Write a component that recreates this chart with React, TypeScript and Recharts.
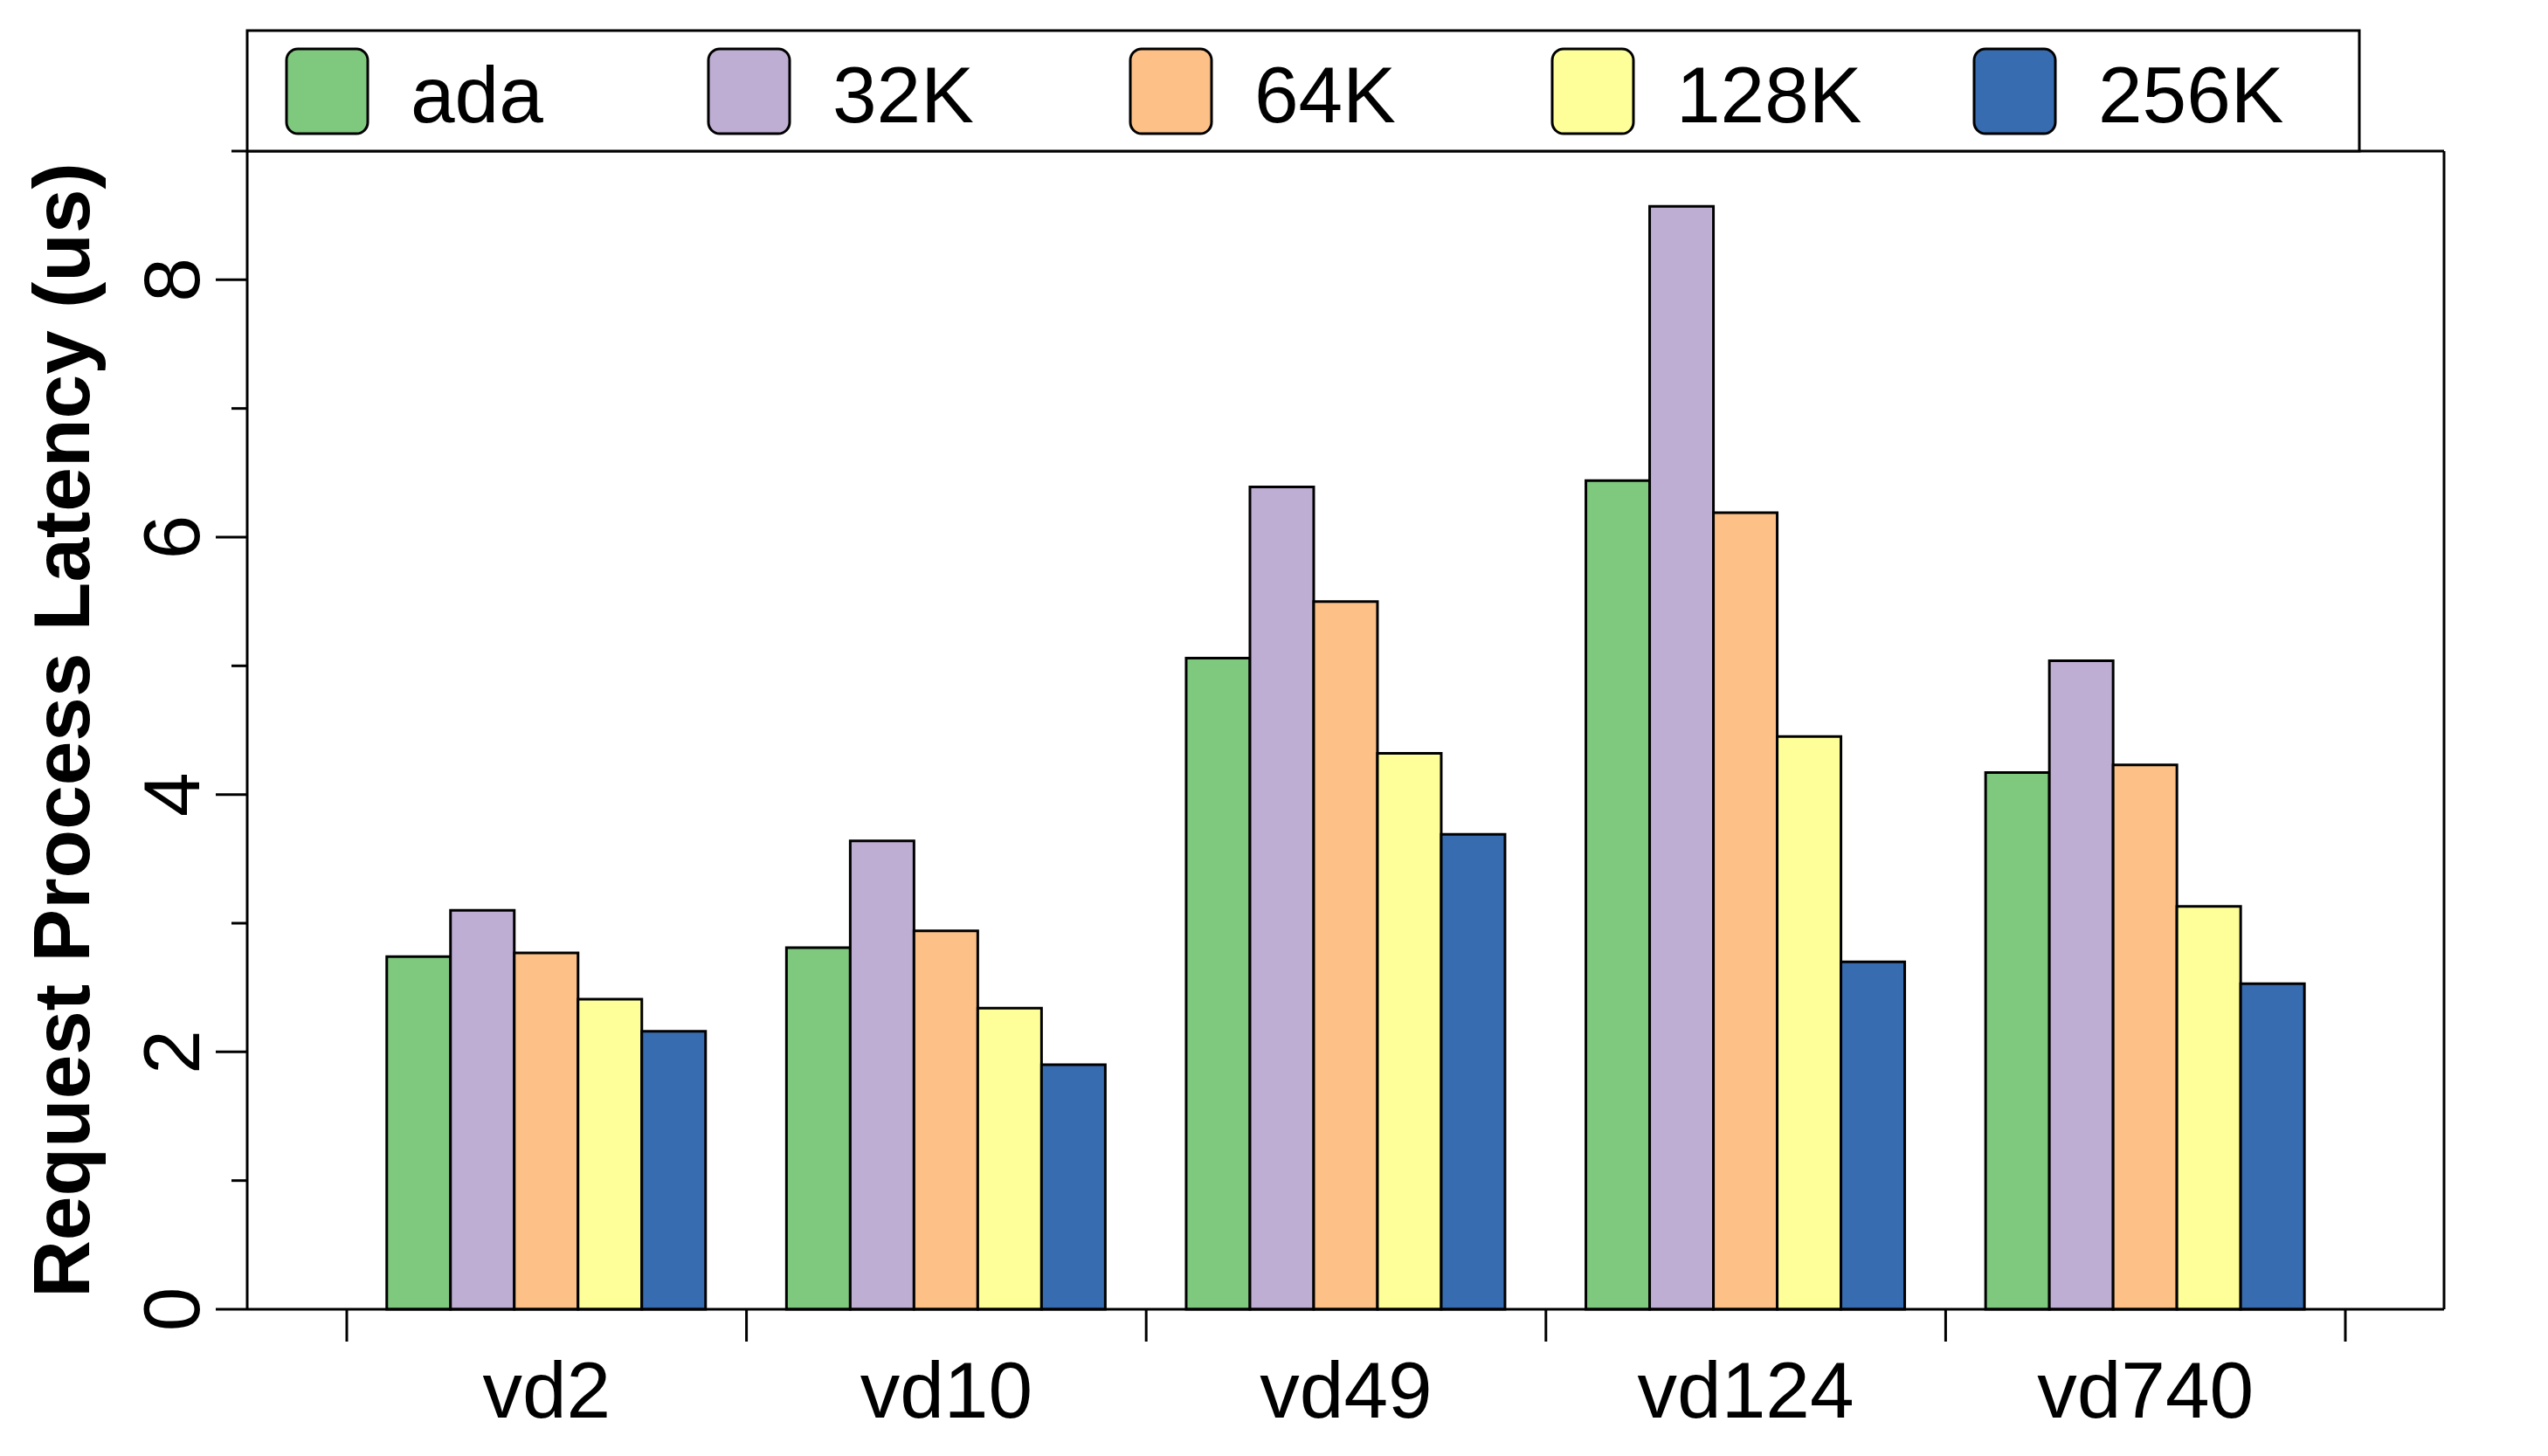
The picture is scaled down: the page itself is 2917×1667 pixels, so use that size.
import React from 'react';
import { BarChart, Bar, XAxis, YAxis } from 'recharts';

document.body.style.margin = '0';
document.body.style.overflow = 'hidden';

const categories = ['vd2', 'vd10', 'vd49', 'vd124', 'vd740'];
const ada = [2.74, 2.81, 5.06, 6.44, 4.17];
const k32 = [3.1, 3.64, 6.39, 8.57, 5.04];
const k64 = [2.77, 2.94, 5.5, 6.19, 4.23];
const k128 = [2.41, 2.34, 4.32, 4.45, 3.13];
const k256 = [2.16, 1.9, 3.69, 2.7, 2.53];
const seriesNames = ['ada', '32K', '64K', '128K', '256K'];
const seriesColors = ['#7FC97F', '#BEAED4', '#FDC086', '#FFFF99', '#386CB0'];
const yTicks = [0, 1, 2, 3, 4, 5, 6, 7, 8, 9];

const FONT = '"Liberation Sans", Arial, Helvetica, sans-serif';
const W = 2917;
const H = 1667;
const PLOT_LEFT = 283;
const PLOT_RIGHT = 2798;
const PLOT_TOP = 173;
const PLOT_BOTTOM = 1499;
const PAD_L = 114;
const PAD_R = 113;
const Y_AXIS_W = 200;
const Y_RIGHT_W = 10;
const X_TOP_H = 10;
const X_AXIS_H = 130;
const BAND = (PLOT_RIGHT - PLOT_LEFT - PAD_L - PAD_R) / categories.length;
const frameLine = { stroke: '#000', strokeWidth: 3 };

const keys = ['ada', 'k32', 'k64', 'k128', 'k256'];
const values = [ada, k32, k64, k128, k256];
const data = categories.map((name, i) => {
  const row: Record<string, string | number> = { name };
  keys.forEach((k, s) => (row[k] = values[s][i]));
  return row;
});

function YTick({ x, y, payload }: any) {
  const v = payload.value;
  const major = v % 2 === 0;
  const bx = x - 55;
  return (
    <g>
      <line x1={x - (major ? 36 : 18)} x2={x} y1={y} y2={y} stroke="#000" strokeWidth={3} />
      {major && (
        <text x={bx} y={y} transform={`rotate(-90 ${bx} ${y})`} textAnchor="middle"
          fontFamily={FONT} fontSize={91} fill="#000">
          {v}
        </text>
      )}
    </g>
  );
}

function XTick({ x, y, payload, index }: any) {
  const half = BAND / 2;
  return (
    <g>
      <line x1={x - half} x2={x - half} y1={y} y2={y + 37} stroke="#000" strokeWidth={3} />
      {index === categories.length - 1 && (
        <line x1={x + half} x2={x + half} y1={y} y2={y + 37} stroke="#000" strokeWidth={3} />
      )}
      <text x={x} y={y + 124} textAnchor="middle" fontFamily={FONT} fontSize={91} fill="#000">
        {payload.value}
      </text>
    </g>
  );
}

function YTitle(props: any) {
  const vb = props.viewBox || { x: PLOT_LEFT - Y_AXIS_W, y: PLOT_TOP, width: Y_AXIS_W, height: PLOT_BOTTOM - PLOT_TOP };
  const bx = vb.x + vb.width - 181;
  const cy = vb.y + vb.height / 2;
  return (
    <text x={bx} y={cy} transform={`rotate(-90 ${bx} ${cy})`} textAnchor="middle"
      fontFamily={FONT} fontWeight="bold" fontSize={91} fill="#000">
      Request Process Latency (us)
    </text>
  );
}

function LegendBox() {
  return (
    <svg width={W} height={H} style={{ position: 'absolute', left: 0, top: 0, pointerEvents: 'none' }}>
      <rect x={PLOT_LEFT} y={35} width={2701 - PLOT_LEFT} height={PLOT_TOP - 35}
        fill="#fff" stroke="#000" strokeWidth={3} />
      {seriesNames.map((n, i) => (
        <g key={n}>
          <rect x={328 + i * 483} y={56} width={93} height={97} rx={13} ry={13}
            fill={seriesColors[i]} stroke="#000" strokeWidth={3} />
          <text x={470 + i * 483} y={140} fontFamily={FONT} fontSize={91} fill="#000">{n}</text>
        </g>
      ))}
    </svg>
  );
}

export default function App() {
  return (
    <div style={{ position: 'relative', width: W, height: H, background: '#fff' }}>
      <BarChart
        width={W}
        height={H}
        data={data}
        barCategoryGap="10%"
        barGap={0}
        margin={{
          top: PLOT_TOP - X_TOP_H,
          right: W - PLOT_RIGHT - Y_RIGHT_W,
          bottom: H - PLOT_BOTTOM - X_AXIS_H,
          left: PLOT_LEFT - Y_AXIS_W,
        }}
      >
        <XAxis
          dataKey="name"
          padding={{ left: PAD_L, right: PAD_R }}
          height={X_AXIS_H}
          axisLine={frameLine}
          tickLine={false}
          tickSize={0}
          tickMargin={0}
          interval={0}
          tick={<XTick />}
        />
        <XAxis xAxisId="top" dataKey="name" orientation="top" height={X_TOP_H}
          padding={{ left: PAD_L, right: PAD_R }}
          axisLine={frameLine} tick={false} tickLine={false} />
        <YAxis
          type="number"
          domain={[0, 9]}
          ticks={yTicks}
          interval={0}
          width={Y_AXIS_W}
          axisLine={frameLine}
          tickLine={false}
          tickSize={0}
          tickMargin={0}
          tick={<YTick />}
          label={{ content: (p: any) => <YTitle {...p} /> }}
        />
        <YAxis yAxisId="right" orientation="right" type="number" domain={[0, 9]}
          ticks={yTicks} width={Y_RIGHT_W}
          axisLine={frameLine} tick={false} tickLine={false} />
        {keys.map((k, i) => (
          <Bar key={k} dataKey={k} name={seriesNames[i]} fill={seriesColors[i]}
            stroke="#000" strokeWidth={3} isAnimationActive={false} />
        ))}
      </BarChart>
      <LegendBox />
    </div>
  );
}
